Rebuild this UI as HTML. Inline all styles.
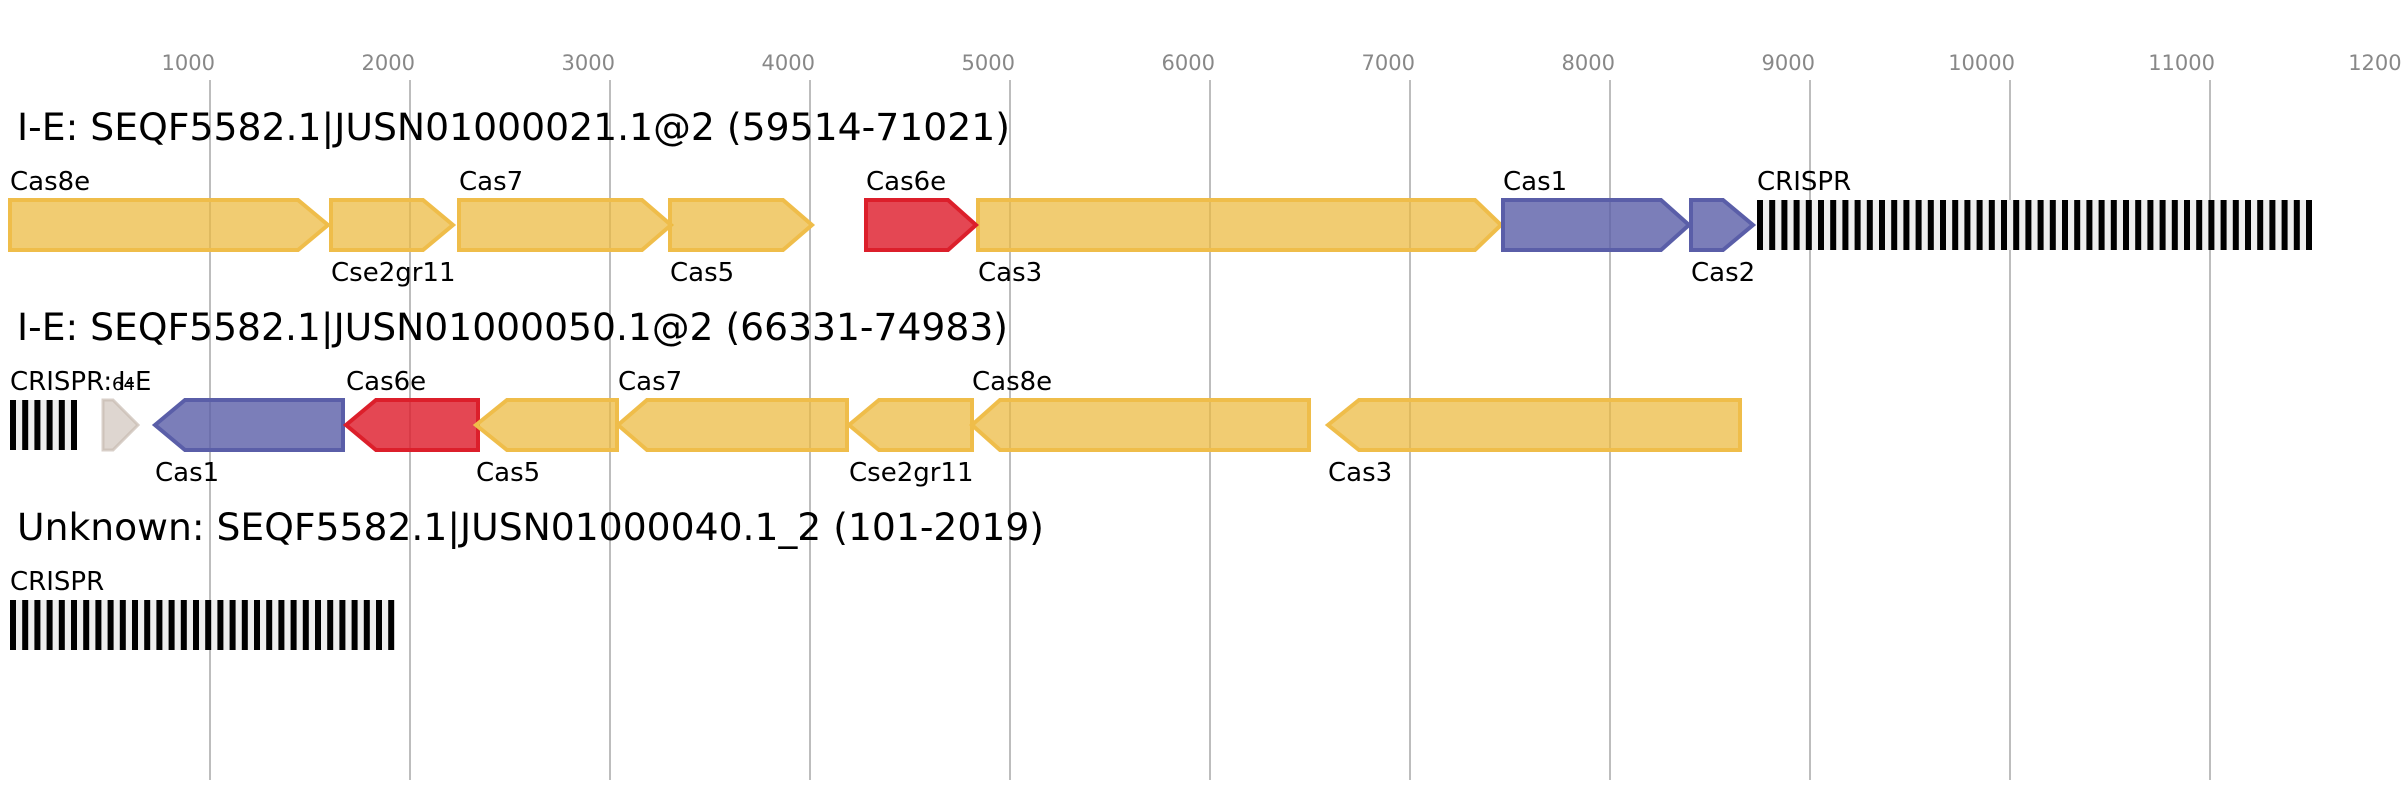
<!DOCTYPE html>
<html><head><meta charset="utf-8"><style>html,body{margin:0;padding:0;background:#fff}svg{display:block}</style></head>
<body>
<svg width="2401" height="800" viewBox="0 0 2401 800" xmlns="http://www.w3.org/2000/svg" font-family="'DejaVu Sans','Liberation Sans',sans-serif">
<g stroke="#bdbdbd" stroke-width="2">
<line x1="210" y1="80" x2="210" y2="780"/><line x1="410" y1="80" x2="410" y2="780"/><line x1="610" y1="80" x2="610" y2="780"/><line x1="810" y1="80" x2="810" y2="780"/><line x1="1010" y1="80" x2="1010" y2="780"/><line x1="1210" y1="80" x2="1210" y2="780"/><line x1="1410" y1="80" x2="1410" y2="780"/><line x1="1610" y1="80" x2="1610" y2="780"/><line x1="1810" y1="80" x2="1810" y2="780"/><line x1="2010" y1="80" x2="2010" y2="780"/><line x1="2210" y1="80" x2="2210" y2="780"/>
</g>
<g fill="#888" font-size="21" text-anchor="end">
<text x="215" y="70">1000</text><text x="415" y="70">2000</text><text x="615" y="70">3000</text><text x="815" y="70">4000</text><text x="1015" y="70">5000</text><text x="1215" y="70">6000</text><text x="1415" y="70">7000</text><text x="1615" y="70">8000</text><text x="1815" y="70">9000</text><text x="2015" y="70">10000</text><text x="2215" y="70">11000</text><text x="2415" y="70">12000</text>
</g>
<g fill="#000" font-size="37">
<text x="17" y="140" textLength="993" lengthAdjust="spacingAndGlyphs">I-E: SEQF5582.1|JUSN01000021.1@2 (59514-71021)</text>
<text x="17" y="340" textLength="991" lengthAdjust="spacingAndGlyphs">I-E: SEQF5582.1|JUSN01000050.1@2 (66331-74983)</text>
<text x="17" y="540" textLength="1027" lengthAdjust="spacingAndGlyphs">Unknown: SEQF5582.1|JUSN01000040.1_2 (101-2019)</text>
</g>
<g stroke-width="4" stroke-linejoin="miter">
<g fill="rgba(236,184,60,0.72)" stroke="#efbd4a">
<polygon points="10,200 298,200 328,225 298,250 10,250"/>
<polygon points="331,200 423,200 453,225 423,250 331,250"/>
<polygon points="459,200 642,200 671,225 642,250 459,250"/>
<polygon points="670,200 783,200 812,225 783,250 670,250"/>
<polygon points="978,200 1475,200 1501,225 1475,250 978,250"/>
</g>
<polygon fill="rgba(222,30,45,0.82)" stroke="#dc1f2b" points="866,200 948,200 976,225 948,250 866,250"/>
<g fill="rgba(90,94,168,0.8)" stroke="#5a5ea8">
<polygon points="1503,200 1661,200 1689,225 1661,250 1503,250"/>
<polygon points="1691,200 1723,200 1753,225 1723,250 1691,250"/>
</g>
<polygon fill="rgba(200,186,176,0.6)" stroke="rgba(200,186,176,0.7)" stroke-width="3" points="103,400 113,400 138,425 113,450 103,450"/>
<polygon fill="rgba(90,94,168,0.8)" stroke="#5a5ea8" points="155,425 185,400 343,400 343,450 185,450"/>
<polygon fill="rgba(222,30,45,0.82)" stroke="#dc1f2b" points="346,425 376,400 478,400 478,450 376,450"/>
<g fill="rgba(236,184,60,0.72)" stroke="#efbd4a">
<polygon points="476,425 507,400 617,400 617,450 507,450"/>
<polygon points="618,425 647,400 847,400 847,450 647,450"/>
<polygon points="849,425 879,400 972,400 972,450 879,450"/>
<polygon points="972,425 1000,400 1309,400 1309,450 1000,450"/>
<polygon points="1328,425 1359,400 1740,400 1740,450 1359,450"/>
</g>
</g>
<rect x="1757" y="200" width="555" height="50" fill="#eee"/>
<rect x="10" y="400" width="67" height="50" fill="#eee"/>
<rect x="10" y="600" width="384" height="50" fill="#eee"/>
<g fill="#000" font-size="26">
<text x="10" y="190">Cas8e</text>
<text x="331" y="281">Cse2gr11</text>
<text x="459" y="190">Cas7</text>
<text x="670" y="281">Cas5</text>
<text x="866" y="190">Cas6e</text>
<text x="978" y="281">Cas3</text>
<text x="1503" y="190">Cas1</text>
<text x="1691" y="281">Cas2</text>
<text x="1757" y="190">CRISPR</text>
<text x="10" y="390">CRISPR:</text>
<text x="118" y="390">I-E</text>
<text x="112" y="390" font-size="18">64</text>
<text x="155" y="481">Cas1</text>
<text x="346" y="390">Cas6e</text>
<text x="476" y="481">Cas5</text>
<text x="618" y="390">Cas7</text>
<text x="849" y="481">Cse2gr11</text>
<text x="972" y="390">Cas8e</text>
<text x="1328" y="481">Cas3</text>
<text x="10" y="590">CRISPR</text>
</g>
<g fill="#000">
<rect x="1757" y="200" width="6" height="50"/><rect x="1769.2" y="200" width="6" height="50"/><rect x="1781.4" y="200" width="6" height="50"/><rect x="1793.6" y="200" width="6" height="50"/><rect x="1805.8" y="200" width="6" height="50"/><rect x="1818" y="200" width="6" height="50"/><rect x="1830.2" y="200" width="6" height="50"/><rect x="1842.4" y="200" width="6" height="50"/><rect x="1854.6" y="200" width="6" height="50"/><rect x="1866.8" y="200" width="6" height="50"/><rect x="1879" y="200" width="6" height="50"/><rect x="1891.2" y="200" width="6" height="50"/><rect x="1903.4" y="200" width="6" height="50"/><rect x="1915.6" y="200" width="6" height="50"/><rect x="1927.8" y="200" width="6" height="50"/><rect x="1940" y="200" width="6" height="50"/><rect x="1952.2" y="200" width="6" height="50"/><rect x="1964.4" y="200" width="6" height="50"/><rect x="1976.6" y="200" width="6" height="50"/><rect x="1988.8" y="200" width="6" height="50"/><rect x="2001" y="200" width="6" height="50"/><rect x="2013.2" y="200" width="6" height="50"/><rect x="2025.4" y="200" width="6" height="50"/><rect x="2037.6" y="200" width="6" height="50"/><rect x="2049.8" y="200" width="6" height="50"/><rect x="2062" y="200" width="6" height="50"/><rect x="2074.2" y="200" width="6" height="50"/><rect x="2086.4" y="200" width="6" height="50"/><rect x="2098.6" y="200" width="6" height="50"/><rect x="2110.8" y="200" width="6" height="50"/><rect x="2123" y="200" width="6" height="50"/><rect x="2135.2" y="200" width="6" height="50"/><rect x="2147.4" y="200" width="6" height="50"/><rect x="2159.6" y="200" width="6" height="50"/><rect x="2171.8" y="200" width="6" height="50"/><rect x="2184" y="200" width="6" height="50"/><rect x="2196.2" y="200" width="6" height="50"/><rect x="2208.4" y="200" width="6" height="50"/><rect x="2220.6" y="200" width="6" height="50"/><rect x="2232.8" y="200" width="6" height="50"/><rect x="2245" y="200" width="6" height="50"/><rect x="2257.2" y="200" width="6" height="50"/><rect x="2269.4" y="200" width="6" height="50"/><rect x="2281.6" y="200" width="6" height="50"/><rect x="2293.8" y="200" width="6" height="50"/><rect x="2306" y="200" width="6" height="50"/>
<rect x="10" y="400" width="6" height="50"/><rect x="22.2" y="400" width="6" height="50"/><rect x="34.4" y="400" width="6" height="50"/><rect x="46.6" y="400" width="6" height="50"/><rect x="58.8" y="400" width="6" height="50"/><rect x="71" y="400" width="6" height="50"/>
<rect x="10" y="600" width="6" height="50"/><rect x="22.2" y="600" width="6" height="50"/><rect x="34.4" y="600" width="6" height="50"/><rect x="46.6" y="600" width="6" height="50"/><rect x="58.8" y="600" width="6" height="50"/><rect x="71" y="600" width="6" height="50"/><rect x="83.2" y="600" width="6" height="50"/><rect x="95.4" y="600" width="6" height="50"/><rect x="107.6" y="600" width="6" height="50"/><rect x="119.8" y="600" width="6" height="50"/><rect x="132" y="600" width="6" height="50"/><rect x="144.2" y="600" width="6" height="50"/><rect x="156.4" y="600" width="6" height="50"/><rect x="168.6" y="600" width="6" height="50"/><rect x="180.8" y="600" width="6" height="50"/><rect x="193" y="600" width="6" height="50"/><rect x="205.2" y="600" width="6" height="50"/><rect x="217.4" y="600" width="6" height="50"/><rect x="229.6" y="600" width="6" height="50"/><rect x="241.8" y="600" width="6" height="50"/><rect x="254" y="600" width="6" height="50"/><rect x="266.2" y="600" width="6" height="50"/><rect x="278.4" y="600" width="6" height="50"/><rect x="290.6" y="600" width="6" height="50"/><rect x="302.8" y="600" width="6" height="50"/><rect x="315" y="600" width="6" height="50"/><rect x="327.2" y="600" width="6" height="50"/><rect x="339.4" y="600" width="6" height="50"/><rect x="351.6" y="600" width="6" height="50"/><rect x="363.8" y="600" width="6" height="50"/><rect x="376" y="600" width="6" height="50"/><rect x="388.2" y="600" width="6" height="50"/>
</g>
</svg>
</body></html>
